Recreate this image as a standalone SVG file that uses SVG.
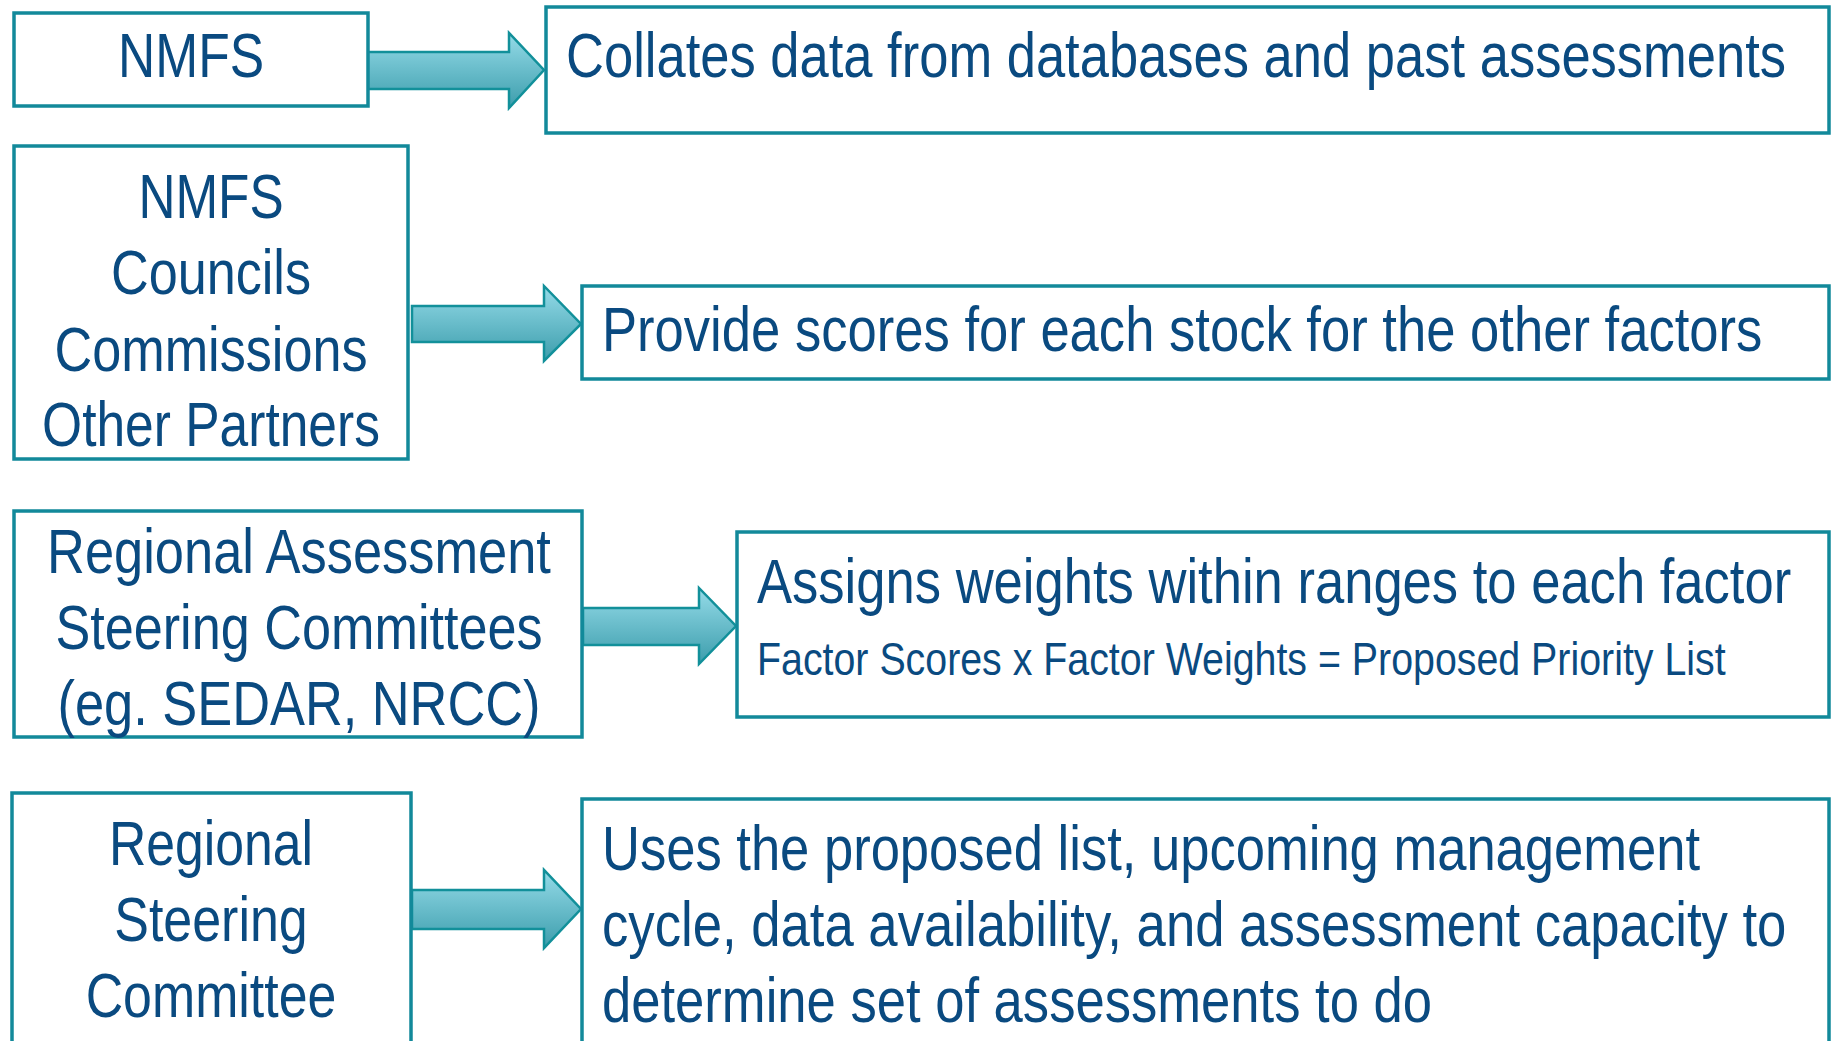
<svg xmlns="http://www.w3.org/2000/svg" width="1832" height="1041" viewBox="0 0 1832 1041">
<defs>
<linearGradient id="ag" x1="0" y1="0" x2="0" y2="1">
<stop offset="0" stop-color="#95DBE8"/>
<stop offset="1" stop-color="#3C9DAC"/>
</linearGradient>
</defs>
<style>
.box{fill:#FFFFFF;stroke:#12899A;stroke-width:3.5}
.arr{fill:url(#ag);stroke:#12909A;stroke-width:2.5;stroke-linejoin:miter}
.t{font-family:"Liberation Sans",Arial,sans-serif;font-size:63px;fill:#0A4A80}
.c{text-anchor:middle}
.s{font-size:46px}
</style>
<rect width="1832" height="1041" fill="#FFFFFF"/>
<g id="connectors">
<polygon class="arr" points="367,52 509,52 509,33 544,70 509,108 509,89 367,89"/>
<polygon class="arr" points="412,306 544,306 544,286 581,324 544,361 544,342 412,342"/>
<polygon class="arr" points="583,608 699,608 699,588 736,626 699,664 699,645 583,645"/>
<polygon class="arr" points="412,890 544,890 544,870 581,909 544,948 544,929 412,929"/>
</g>
<g id="n1">
<rect class="box" x="14" y="13" width="354" height="93"/>
<text class="t c" transform="translate(191,77) scale(0.83,1)" textLength="176" lengthAdjust="spacingAndGlyphs">NMFS</text>
</g>
<g id="n2">
<rect class="box" x="546" y="7" width="1283" height="126"/>
<text class="t" transform="translate(566,77) scale(0.83,1)" textLength="1470" lengthAdjust="spacingAndGlyphs">Collates data from databases and past assessments</text>
</g>
<g id="n3">
<rect class="box" x="14" y="146" width="394" height="313"/>
<text class="t c" transform="translate(211,218) scale(0.83,1)" textLength="175" lengthAdjust="spacingAndGlyphs">NMFS</text>
<text class="t c" transform="translate(211,294) scale(0.83,1)" textLength="241" lengthAdjust="spacingAndGlyphs">Councils</text>
<text class="t c" transform="translate(211,371) scale(0.83,1)" textLength="377" lengthAdjust="spacingAndGlyphs">Commissions</text>
<text class="t c" transform="translate(211,446) scale(0.83,1)" textLength="407" lengthAdjust="spacingAndGlyphs">Other Partners</text>
</g>
<g id="n4">
<rect class="box" x="582" y="286" width="1247" height="93"/>
<text class="t" transform="translate(602,351) scale(0.83,1)" textLength="1398" lengthAdjust="spacingAndGlyphs">Provide scores for each stock for the other factors</text>
</g>
<g id="n5">
<rect class="box" x="14" y="511" width="568" height="226"/>
<text class="t c" transform="translate(299,573) scale(0.83,1)" textLength="607" lengthAdjust="spacingAndGlyphs">Regional Assessment</text>
<text class="t c" transform="translate(299,649) scale(0.83,1)" textLength="587" lengthAdjust="spacingAndGlyphs">Steering Committees</text>
<text class="t c" transform="translate(299,725) scale(0.83,1)" textLength="582" lengthAdjust="spacingAndGlyphs">(eg. SEDAR, NRCC)</text>
</g>
<g id="n6">
<rect class="box" x="737" y="532" width="1092" height="185"/>
<text class="t" transform="translate(757,603) scale(0.83,1)" textLength="1246" lengthAdjust="spacingAndGlyphs">Assigns weights within ranges to each factor</text>
<text class="t s" transform="translate(757,675) scale(0.83,1)" textLength="1167" lengthAdjust="spacingAndGlyphs">Factor Scores x Factor Weights = Proposed Priority List</text>
</g>
<g id="n7">
<rect class="box" x="12" y="793" width="399" height="270"/>
<text class="t c" transform="translate(211,865) scale(0.83,1)" textLength="246" lengthAdjust="spacingAndGlyphs">Regional</text>
<text class="t c" transform="translate(211,941) scale(0.83,1)" textLength="233" lengthAdjust="spacingAndGlyphs">Steering</text>
<text class="t c" transform="translate(211,1017) scale(0.83,1)" textLength="302" lengthAdjust="spacingAndGlyphs">Committee</text>
</g>
<g id="n8">
<rect class="box" x="582" y="799" width="1247" height="264"/>
<text class="t" transform="translate(602,870) scale(0.83,1)" textLength="1323" lengthAdjust="spacingAndGlyphs">Uses the proposed list, upcoming management</text>
<text class="t" transform="translate(602,946) scale(0.83,1)" textLength="1427" lengthAdjust="spacingAndGlyphs">cycle, data availability, and assessment capacity to</text>
<text class="t" transform="translate(602,1022) scale(0.83,1)" textLength="1000" lengthAdjust="spacingAndGlyphs">determine set of assessments to do</text>
</g>
</svg>
